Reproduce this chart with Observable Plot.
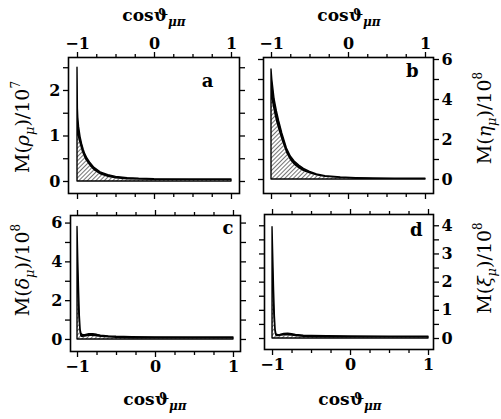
<!DOCTYPE html>
<html><head><meta charset="utf-8">
<script src="https://cdn.jsdelivr.net/npm/d3@7"></script>
<script src="https://cdn.jsdelivr.net/npm/@observablehq/plot@0.6"></script>
<style>
body{margin:0;background:#fff;}
#wrap{position:relative;width:501px;height:419px;overflow:hidden;font-family:"DejaVu Serif",serif;color:#000;}
#wrap svg.panel{position:absolute;left:0;top:0;}
.lab{position:absolute;white-space:nowrap;font-size:17px;line-height:1;}
.rot{transform:translate(-50%,-50%) rotate(-90deg);font-size:19px;}
.ctr{transform:translate(-50%,-50%);font-weight:bold;}
.lab sub{font-size:12px;font-style:italic;vertical-align:-5px;line-height:0;}
.rot sub{font-size:13px;}
.lab sup{font-size:12px;vertical-align:9px;line-height:0;}
</style></head><body><div id="wrap">
<svg width="0" height="0" style="position:absolute"><defs>
<pattern id="hatch" patternUnits="userSpaceOnUse" width="3" height="3" patternTransform="rotate(45)"><line x1="0" y1="0" x2="0" y2="3" stroke="#000" stroke-width="1.1"/></pattern>
</defs></svg>
</div>
<script>
// ---- data ----
const xTickMajor = [-1, 0, 1];
const xTickMinor = [-0.75, -0.5, -0.25, 0.25, 0.5, 0.75];

const xA = [-1, -0.995, -0.99, -0.98, -0.96, -0.94, -0.92, -0.9, -0.87, -0.83, -0.78, -0.7, -0.6, -0.5, -0.35, -0.2, 0, 0.5, 1];
const outerA = [2.5, 1.6, 1.4, 1.2, 0.97, 0.82, 0.7, 0.6, 0.5, 0.4, 0.3, 0.2, 0.14, 0.1, 0.075, 0.06, 0.05, 0.045, 0.045];
const innerA = [1.0, 1.0, 0.98, 0.9, 0.78, 0.66, 0.57, 0.49, 0.41, 0.32, 0.23, 0.14, 0.085, 0.055, 0.035, 0.025, 0.02, 0.02, 0.02];

const xB = [-1, -0.99, -0.96, -0.93, -0.9, -0.86, -0.8, -0.75, -0.7, -0.64, -0.58, -0.5, -0.41, -0.3, -0.1, 0.1, 0.33, 0.6, 1];
const outerB = [5.5, 5.0, 4.0, 3.4, 2.9, 2.3, 1.55, 1.15, 0.9, 0.7, 0.53, 0.38, 0.25, 0.16, 0.1, 0.07, 0.05, 0.04, 0.04];
const innerB = [4.0, 3.9, 3.3, 2.8, 2.4, 1.9, 1.28, 0.93, 0.7, 0.53, 0.39, 0.27, 0.17, 0.1, 0.05, 0.03, 0.02, 0.02, 0.02];

const xC = [-1, -0.99, -0.98, -0.97, -0.96, -0.95, -0.93, -0.9, -0.85, -0.8, -0.75, -0.7, -0.6, -0.5, -0.3, 0, 0.5, 1];
const outerC = [5.8, 4.0, 2.5, 1.2, 0.5, 0.3, 0.22, 0.22, 0.27, 0.27, 0.24, 0.2, 0.16, 0.14, 0.12, 0.11, 0.1, 0.1];
const innerC = [2.5, 1.6, 0.9, 0.4, 0.15, 0.1, 0.1, 0.12, 0.15, 0.15, 0.13, 0.1, 0.07, 0.05, 0.03, 0.02, 0.02, 0.02];

const xD = [-1, -0.99, -0.98, -0.97, -0.96, -0.95, -0.93, -0.9, -0.85, -0.8, -0.75, -0.7, -0.6, -0.5, -0.3, 0, 0.5, 1];
const outerD = [3.95, 2.8, 1.7, 0.8, 0.3, 0.15, 0.12, 0.13, 0.16, 0.17, 0.15, 0.13, 0.1, 0.09, 0.08, 0.07, 0.06, 0.06];
const innerD = [1.7, 1.1, 0.6, 0.25, 0.1, 0.06, 0.06, 0.07, 0.09, 0.09, 0.08, 0.06, 0.04, 0.03, 0.02, 0.015, 0.015, 0.015];

const yTicksA = {major: [0, 1, 2], minor: [0.5, 1.5, 2.5]};
const yTicksB = {major: [0, 2, 4, 6], minor: [1, 3, 5]};
const yTicksC = {major: [0, 2, 4, 6], minor: [1, 3, 5]};
const yTicksD = {major: [0, 1, 2, 3, 4], minor: [0.5, 1.5, 2.5, 3.5]};

const W = 501, H = 419;
const fmt = d => (d < 0 ? "\u2212" : "") + Math.abs(d);
const blank = () => "";

function panel(o) {
  const rows = o.x.map((v, i) => ({x: v, outer: o.outer[i], inner: o.inner[i]}));
  const xLab = o.xSide, xOther = o.xSide === "top" ? "bottom" : "top";
  const yLab = o.ySide, yOther = o.ySide === "left" ? "right" : "left";
  const fs = 16;
  const svg = Plot.plot({
    width: W, height: H,
    marginLeft: o.frame[0], marginRight: W - o.frame[1],
    marginTop: o.frame[2], marginBottom: H - o.frame[3],
    style: {fontFamily: "DejaVu Serif", fontSize: fs + "px", background: "transparent", overflow: "visible"},
    x: {domain: o.xDomain, axis: null},
    y: {domain: o.yDomain, axis: null},
    marks: [
      Plot.areaY(rows, {x: "x", y1: 0, y2: "inner", fill: "url(#hatch)"}),
      Plot.areaY(rows, {x: "x", y1: "inner", y2: "outer", fill: "black"}),
      Plot.areaY(rows, {x: "x", y1: 0, y2: "outer", fill: "none", stroke: "black", strokeWidth: 1.4}),
      Plot.frame({strokeWidth: 1.6}),
      Plot.axisX(xTickMajor, {anchor: xLab, tickSize: 6, tickPadding: 3, tickFormat: fmt, label: null, fontSize: fs, fontWeight: "bold", strokeWidth: 1.3}),
      Plot.axisX(xTickMinor, {anchor: xLab, tickSize: 4, tickFormat: blank, label: null, strokeWidth: 1.3}),
      Plot.axisX(xTickMajor, {anchor: xOther, tickSize: 6, tickFormat: blank, label: null, strokeWidth: 1.3}),
      Plot.axisX(xTickMinor, {anchor: xOther, tickSize: 4, tickFormat: blank, label: null, strokeWidth: 1.3}),
      Plot.axisY(o.yTicks.major, {anchor: yLab, tickSize: 5, tickPadding: 3, tickFormat: fmt, label: null, fontSize: fs, fontWeight: "bold", strokeWidth: 1.3}),
      Plot.axisY(o.yTicks.minor, {anchor: yLab, tickSize: 5, tickFormat: blank, label: null, strokeWidth: 1.3}),
      Plot.axisY(o.yTicks.major.concat(o.yTicks.minor), {anchor: yOther, tickSize: 5, tickFormat: blank, label: null, strokeWidth: 1.3}),
      Plot.text([o.letter], {frameAnchor: "top-right", dx: o.ldx, dy: o.ldy, fontSize: 18, fontWeight: "bold", textAnchor: "end", lineAnchor: "top"})
    ]
  });
  svg.classList.add("panel");
  document.getElementById("wrap").appendChild(svg);
}

panel({x: xA, outer: outerA, inner: innerA, xDomain: [-1.117, 1.104], yDomain: [-0.264, 2.725],
  frame: [68, 239, 57, 193], xSide: "top", ySide: "left", yTicks: yTicksA, letter: "a", ldx: -26, ldy: 17});
panel({x: xB, outer: outerB, inner: innerB, xDomain: [-1.104, 1.104], yDomain: [-0.7, 6.1],
  frame: [263, 433, 57, 193], xSide: "top", ySide: "right", yTicks: yTicksB, letter: "b", ldx: -15, ldy: 7});
panel({x: xC, outer: outerC, inner: innerC, xDomain: [-1.09, 1.09], yDomain: [-0.62, 6.39],
  frame: [70, 240, 215, 351], xSide: "bottom", ySide: "left", yTicks: yTicksC, letter: "c", ldx: -7, ldy: 6});
panel({x: xD, outer: outerD, inner: innerD, xDomain: [-1.103, 1.064], yDomain: [-0.39, 4.4],
  frame: [264, 433, 214, 349], xSide: "bottom", ySide: "right", yTicks: yTicksD, letter: "d", ldx: -11, ldy: 9});

// ---- labels ----
const xTitle = 'cos\u03d1<sub>\u03bc\u03c0</sub>';
const labels = [
  {html: xTitle, x: 154, y: 15, cls: "ctr"},
  {html: xTitle, x: 349, y: 15, cls: "ctr"},
  {html: xTitle, x: 155, y: 399, cls: "ctr"},
  {html: xTitle, x: 350, y: 399, cls: "ctr"},
  {html: 'M(<i>\u03c1</i><sub>\u03bc</sub>)/10<sup>7</sup>', x: 22, y: 127, cls: "rot"},
  {html: 'M(<i>\u03b7</i><sub>\u03bc</sub>)/10<sup>8</sup>', x: 484, y: 118, cls: "rot"},
  {html: 'M(<i>\u03b4</i><sub>\u03bc</sub>)/10<sup>8</sup>', x: 22, y: 270, cls: "rot"},
  {html: 'M(<i>\u03be</i><sub>\u03bc</sub>)/10<sup>8</sup>', x: 484, y: 268, cls: "rot"}
];
const wrap = document.getElementById("wrap");
for (const l of labels) {
  const d = document.createElement("div");
  d.className = "lab " + l.cls;
  d.style.left = l.x + "px";
  d.style.top = l.y + "px";
  d.innerHTML = l.html;
  wrap.appendChild(d);
}
</script>
</body></html>
